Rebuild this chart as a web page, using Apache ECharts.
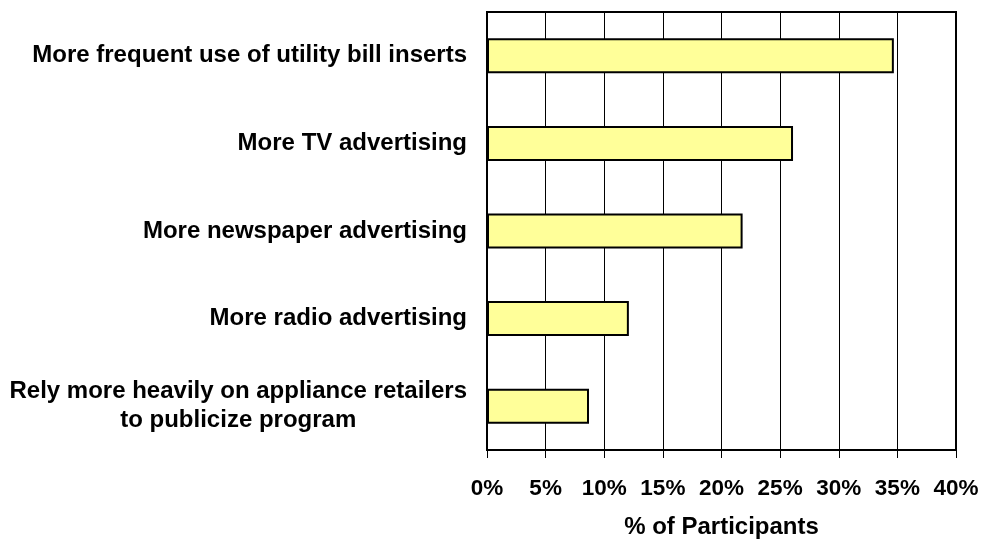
<!DOCTYPE html>
<html>
<head>
<meta charset="utf-8">
<script src="https://cdn.jsdelivr.net/npm/echarts@6/dist/echarts.min.js"></script>
<style>
  html, body { margin: 0; padding: 0; background: #fff; }
  #chart { width: 982px; height: 540px; }
</style>
</head>
<body>
<div id="chart"></div>
<script>
// Categories listed bottom to top (category axis is drawn from the bottom)
const categories = [
  'Rely more heavily on appliance retailers\nto publicize program',
  'More radio advertising',
  'More newspaper advertising',
  'More TV advertising',
  'More frequent use of utility bill inserts'
];
const participantPct = [8.7, 12.1, 21.8, 26.1, 34.7];
const xTicks = [0, 5, 10, 15, 20, 25, 30, 35, 40];

const font = '"Liberation Sans", Arial, sans-serif';
const chart = echarts.init(document.getElementById('chart'), null, { renderer: 'canvas' });

// Each line of a category label is centred within its block; the block is right-aligned
const wrapLines = v => v.split('\n').map(l => '{c|' + l + '}').join('\n');

chart.setOption({
  animation: false,
  backgroundColor: '#fff',
  grid: { left: 487, right: 26, top: 12, bottom: 90, containLabel: false,
          outerBoundsMode: 'none',
          show: true, borderColor: '#000', borderWidth: 2, backgroundColor: 'transparent' },
  xAxis: {
    type: 'value',
    min: xTicks[0],
    max: xTicks[xTicks.length - 1],
    interval: 5,
    name: '% of Participants',
    nameLocation: 'middle',
    nameGap: 65,
    nameTextStyle: { fontFamily: font, fontWeight: 'bold', fontSize: 24, color: '#000' },
    axisLine: { show: true, lineStyle: { color: '#000', width: 2 } },
    axisTick: { show: true, length: 8, lineStyle: { color: '#000', width: 1 } },
    axisLabel: { formatter: '{value}%', margin: 27, fontFamily: font, fontWeight: 'bold',
                 fontSize: 22.5, color: '#000' },
    splitLine: { show: true, lineStyle: { color: '#000', width: 1 } }
  },
  yAxis: {
    type: 'category',
    data: categories,
    axisLine: { show: true, lineStyle: { color: '#000', width: 2 } },
    axisTick: { show: false },
    axisLabel: {
      margin: 20, align: 'right', color: '#000',
      formatter: wrapLines,
      rich: {
        c: { fontFamily: font, fontWeight: 'bold', fontSize: 24, color: '#000',
             align: 'center', lineHeight: 29 }
      }
    },
    splitLine: { show: false }
  },
  series: [{
    type: 'bar',
    data: participantPct,
    barWidth: '40%',
    itemStyle: { color: '#FFFF99', borderColor: '#000', borderWidth: 2 }
  }]
});
</script>
</body>
</html>
